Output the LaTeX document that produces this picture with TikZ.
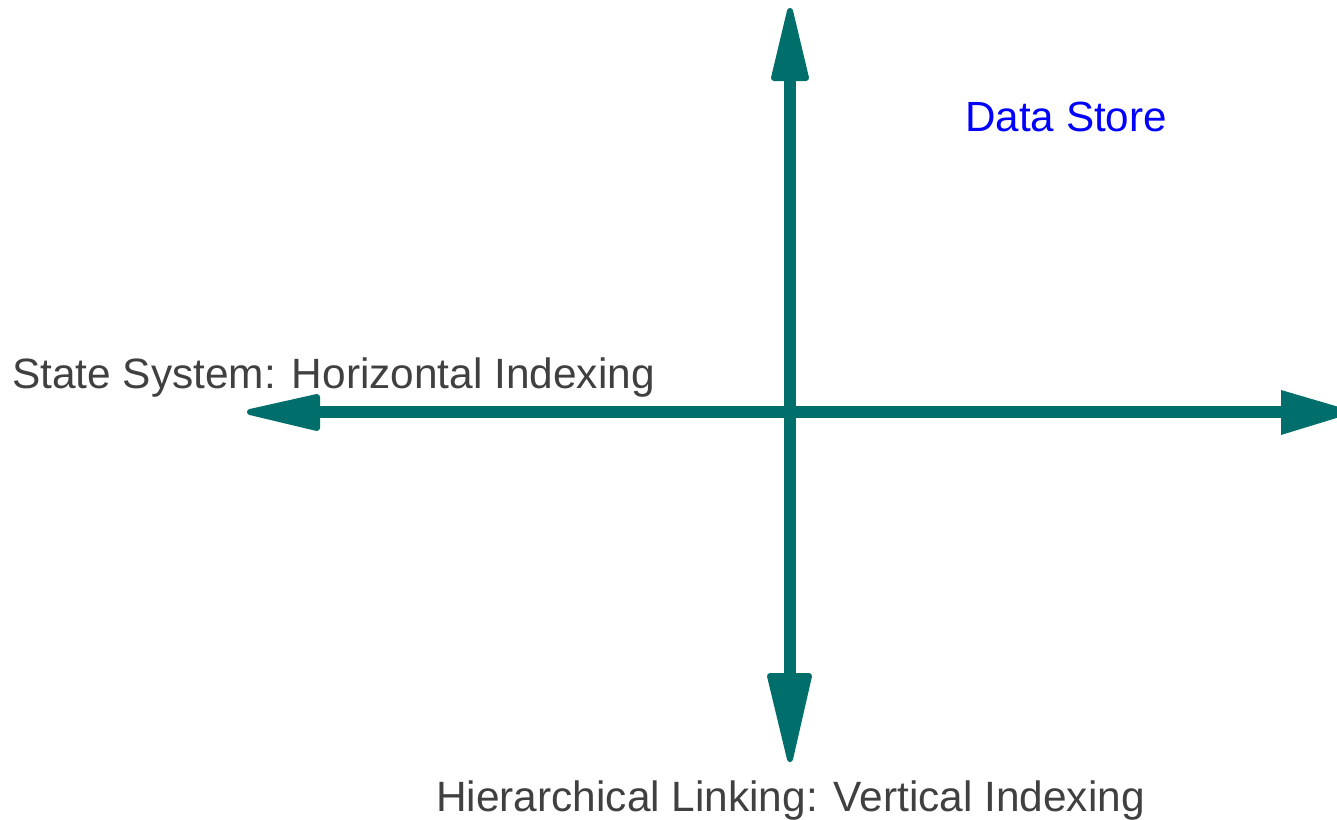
\documentclass[tikz,border=0pt]{standalone}
\usepackage{fontspec}
\setmainfont{Liberation Sans}
\definecolor{axisteal}{HTML}{006E6B}
\definecolor{labelgray}{HTML}{404040}
\definecolor{storeblue}{HTML}{0000FF}
\begin{document}
\begin{tikzpicture}[x=1pt,y=-1pt,
  shaft/.style={draw=axisteal,line width=12pt},
  headtri/.style={fill=axisteal,draw=axisteal,line width=6pt,line join=round},
  sharphead/.style={fill=axisteal,draw=none},
  axislabel/.style={inner sep=0pt,text=labelgray,font=\fontsize{42.4pt}{50pt}\selectfont},
  storelabel/.style={inner sep=0pt,text=storeblue,font=\fontsize{42.2pt}{50pt}\selectfont}]
\useasboundingbox (0,0) rectangle (1337,819);
% named end points
\coordinate (top) at (790,78);
\coordinate (bottom) at (790,676);
\coordinate (left) at (318,412);
\coordinate (right) at (1283,412);
% shafts
\draw[shaft] (top) -- (bottom);
\draw[shaft] (left) -- (right);
% arrow heads
\filldraw[headtri] (790,11) -- (806,78) -- (774,78) -- cycle;
\filldraw[headtri] (790,759) -- (809,676) -- (770,676) -- cycle;
\filldraw[headtri] (250,412) -- (317,397) -- (317,428) -- cycle;
\fill[sharphead] (1281,390) -- (1356,412) -- (1281,435) -- cycle;
% labels
\node[storelabel,anchor=base west] (store) at (965,131) {Data Store};
\node[axislabel,anchor=base west] (state) at (12,388) {State System: Horizontal Indexing};
\node[axislabel,anchor=base west] (hier) at (436,811) {Hierarchical Linking: Vertical Indexing};
\end{tikzpicture}
\end{document}
